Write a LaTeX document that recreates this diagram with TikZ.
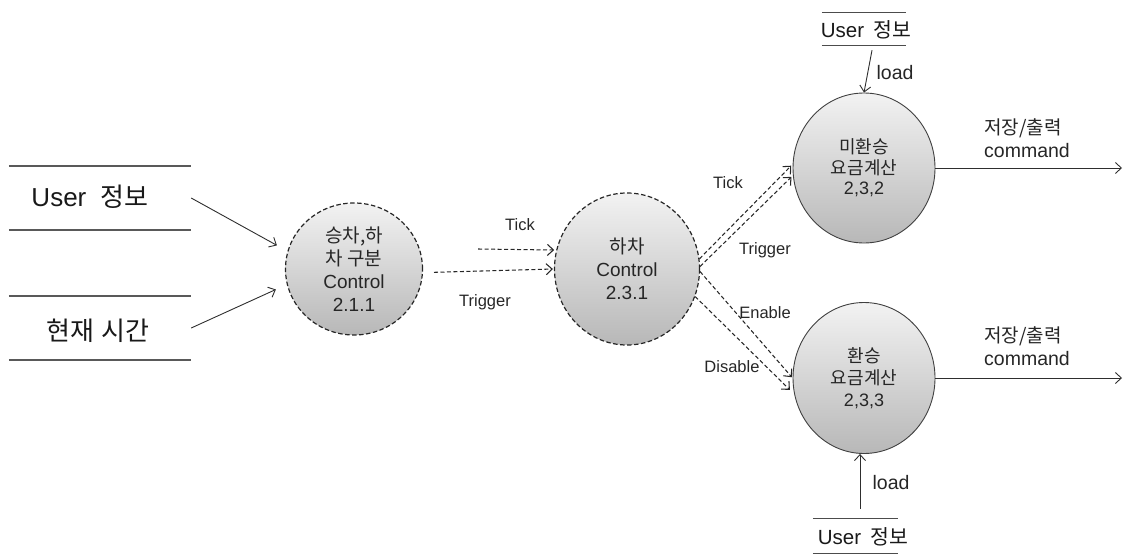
\documentclass[tikz,border=0pt]{standalone}
\usepackage{fontspec}
\setmainfont{Liberation Sans}
\newfontfamily\kr{Noto Sans CJK KR}
\usetikzlibrary{arrows.meta,shapes.geometric}

\newcommand{\fs}[1]{\fontsize{#1}{#1}\selectfont}

\begin{document}
\begin{tikzpicture}[x=1pt,y=-1pt,
  ink/.style={draw=black!82, line width=0.9pt},
  arr/.style={ink, -{Straight Barb[length=6pt,width=11pt]}},
  darr/.style={arr, line width=1.05pt, draw=black!85, dash pattern=on 4pt off 2.5pt},
  proc/.style={ellipse, draw=black!75, line width=0.9pt,
    top color=black!5, bottom color=black!28, inner sep=0pt,
    align=center, text=black!85, font=\fontsize{19}{23}\selectfont},
  ctrl/.style={proc, draw=black!85, dash pattern=on 4.5pt off 2.5pt, line width=1.2pt},
  storeline/.style={draw=black!65, line width=1.6pt},
  smallline/.style={draw=black!70, line width=1.1pt},
  store/.style={inner sep=0pt, text=black!90, font=\fs{26}},
  sstore/.style={inner sep=0pt, text=black!90, font=\fs{20.5}},
  lbl/.style={inner sep=0pt, text=black!85, font=\fs{16.5}},
  mlbl/.style={inner sep=0pt, text=black!85, font=\fs{19.5}},
  olbl/.style={inner sep=0pt, text=black!85, align=left,
    font=\fontsize{19.5}{23}\selectfont},
]
\useasboundingbox (0,0) rectangle (1123,554);

% data stores on the left
\node[store, minimum width=182pt, minimum height=64pt] (user) at (100,198) {};
\node[store] (usertxt) at (90,197) {User\hspace{0.55em}{\kr 정보}};
\node[store, minimum width=182pt, minimum height=64pt] (time) at (100,328) {};
\node[store] (timetxt) at (98,331) {{\kr 현재\hspace{0.3em}시간}};
\draw[storeline] (user.north west) -- (user.north east);
\draw[storeline] (user.south west) -- (user.south east);
\draw[storeline] (time.north west) -- (time.north east);
\draw[storeline] (time.south west) -- (time.south east);

% processes
\node[ctrl, minimum width=137pt, minimum height=132pt] (c1) at (354,269)
  {{\kr 승차,하}\\{\kr 차 구분}\\Control\\2.1.1};
\node[ctrl, minimum width=145pt, minimum height=152pt] (c2) at (627,269)
  {{\kr 하차}\\Control\\2.3.1};
\node[proc, minimum width=142pt, minimum height=150pt,
  font=\fontsize{18}{20.5}\selectfont] (c3) at (864,168)
  {\raisebox{-4pt}{\parbox{80pt}{\centering{\kr 미환승}\\{\kr 요금계산}\\2,3,2}}};
\node[proc, minimum width=142pt, minimum height=151pt,
  font=\fontsize{18}{22}\selectfont] (c4) at (864,378)
  {{\kr 환승}\\{\kr 요금계산}\\2,3,3};

% small data stores
\node[sstore, minimum width=84pt, minimum height=32pt] (utop) at (864,29) {};
\node[sstore] (utoptxt) at (866,30) {User\hspace{0.45em}{\kr 정보}};
\draw[smallline] (utop.north west) -- (utop.north east);
\draw[smallline] (utop.south west) -- (utop.south east);
\node[sstore, minimum width=85pt, minimum height=34pt] (ubot) at (855.5,536) {};
\node[sstore] (ubottxt) at (863,537) {User\hspace{0.45em}{\kr 정보}};
\draw[smallline] (ubot.north west) -- (ubot.north east);
\draw[smallline] (ubot.south west) -- (ubot.south east);

% inputs to the first control
\draw[arr, shorten >=12pt] (user.east) -- (c1.165);
\draw[arr, shorten >=12pt] (time.east) -- (c1.193);

% first to second control
\coordinate (tickstart) at (478,249);
\draw[darr, shorten >=2pt] (tickstart) -- (c2.165);
\draw[darr, shorten <=11pt, shorten >=1pt] (c1.357) -- (c2.180);
\node[lbl] (tick1) at (520,225) {Tick};
\node[lbl] (trig1) at (485,302) {Trigger};

% second control to the fare processes
\draw[darr, shorten >=2pt] (c2.8) -- (c3.177);
\draw[darr, shorten >=2pt] (c2.2) -- (c3.186);
\draw[darr, shorten >=1pt] (c2.-2) -- (c4.180);
\draw[darr, shorten >=6pt] (c2.-22) -- (c4.193);
\node[lbl] (tick2) at (728,183) {Tick};
\node[lbl] (trig2) at (765,250) {Trigger};
\node[lbl] (enab) at (765,313) {Enable};
\node[lbl] (disab) at (732,367) {Disable};

% loads from the user store
\draw[arr] ([xshift=8pt,yshift=-5pt]utop.south) -- (c3.north);
\node[mlbl] (load1) at (895,73) {load};
\draw[arr] ([xshift=4.5pt,yshift=10pt]ubot.north) -- ([xshift=-4pt]c4.south);
\node[mlbl] (load2) at (891,483) {load};

% outputs
\coordinate (out3) at (1122,168);
\coordinate (out4) at (1122,378);
\draw[arr] (c3.east) -- (out3);
\draw[arr] (c4.east) -- (out4);
\node[olbl, anchor=west] (cmd3) at (984,138.5) {{\kr\fs{19}저장/출력}\\command};
\node[olbl, anchor=west] (cmd4) at (984,346.5) {{\kr\fs{19}저장/출력}\\command};
\end{tikzpicture}
\end{document}
